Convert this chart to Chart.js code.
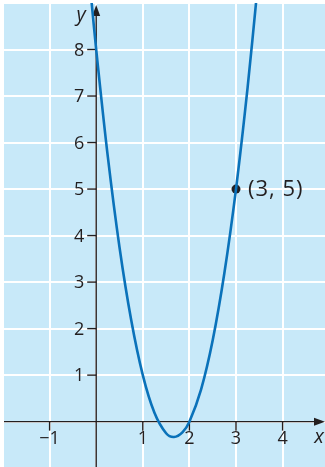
<!DOCTYPE html>
<html>
<head>
<meta charset="utf-8">
<script src="https://cdn.jsdelivr.net/npm/chart.js@4.4.0/dist/chart.umd.min.js"></script>
<style>
  html, body { margin: 0; padding: 0; background: #ffffff; }
  #wrap { width: 325px; height: 467px; }
</style>
</head>
<body>
<div id="wrap"><canvas id="graph"></canvas></div>
<script>
// parabola
const curveX = [-0.1, 0, 0.25, 0.5, 0.75, 1, 1.25, 1.5, 1.67, 1.85, 2, 2.25, 2.5, 2.75, 3, 3.25, 3.45];
const curveY = [9.03, 8, 5.69, 3.75, 2.19, 1, 0.19, -0.25, -0.33, -0.23, 0, 0.69, 1.75, 3.19, 5, 7.19, 9.21];

// marked point
const pointX = [3];
const pointY = [5];
const pointLabel = '(3, 5)';

// tick labels on the axes
const xTicks = [-1, 1, 2, 3, 4];
const xTickLabels = ['\u22121', '1', '2', '3', '4'];
const yTicks = [1, 2, 3, 4, 5, 6, 7, 8];
const yTickLabels = ['1', '2', '3', '4', '5', '6', '7', '8'];

const ink = '#231f20';
const tickFont = '18px "Open Sans"';

var curveData = curveX.map((x, i) => ({x: x, y: curveY[i]}));
var pointData = pointX.map((x, i) => ({x: x, y: pointY[i]}));

// light blue panel behind the grid
const panelBg = {
    id: 'panelBg',
    beforeDraw(chart) {
        const {ctx, chartArea: a} = chart;
        ctx.save();
        ctx.fillStyle = '#c8e9f9';
        ctx.fillRect(a.left, a.top, a.right - a.left, a.bottom - a.top);
        ctx.restore();
    }
};

// axes through the origin, with arrows and tick marks
const axesAtZero = {
    id: 'axesAtZero',
    beforeDatasetsDraw(chart) {
        const ctx = chart.ctx;
        const xs = chart.scales.x, ys = chart.scales.y;
        const a = chart.chartArea;
        var x0 = xs.getPixelForValue(0);
        var y0 = ys.getPixelForValue(0);
        ctx.save();
        ctx.strokeStyle = ink;
        ctx.fillStyle = ink;
        ctx.lineWidth = 1.4;

        // x axis
        ctx.beginPath();
        ctx.moveTo(a.left + 1, y0);
        ctx.lineTo(a.right - 6, y0);
        ctx.stroke();
        ctx.beginPath();
        ctx.moveTo(a.right, y0);
        ctx.lineTo(a.right - 11, y0 - 4);
        ctx.lineTo(a.right - 11, y0 + 4);
        ctx.closePath();
        ctx.fill();

        // y axis
        ctx.beginPath();
        ctx.moveTo(x0, a.bottom);
        ctx.lineTo(x0, a.top + 8);
        ctx.stroke();
        ctx.beginPath();
        ctx.moveTo(x0, a.top + 2);
        ctx.lineTo(x0 - 4, a.top + 13);
        ctx.lineTo(x0 + 4, a.top + 13);
        ctx.closePath();
        ctx.fill();

        // tick marks
        xTicks.forEach(v => {
            var px = xs.getPixelForValue(v);
            ctx.beginPath();
            ctx.moveTo(px, y0);
            ctx.lineTo(px, y0 + 9);
            ctx.stroke();
        });
        yTicks.forEach(v => {
            var py = ys.getPixelForValue(v);
            ctx.beginPath();
            ctx.moveTo(x0, py);
            ctx.lineTo(x0 - 9, py);
            ctx.stroke();
        });
        ctx.restore();
    },
    afterDatasetsDraw(chart) {
        const ctx = chart.ctx;
        const xs = chart.scales.x, ys = chart.scales.y;
        const a = chart.chartArea;
        var x0 = xs.getPixelForValue(0);
        var y0 = ys.getPixelForValue(0);
        ctx.save();
        ctx.fillStyle = ink;
        ctx.font = tickFont;

        ctx.textAlign = 'center';
        ctx.textBaseline = 'top';
        xTicks.forEach((v, i) => {
            ctx.fillText(xTickLabels[i], xs.getPixelForValue(v), y0 + 8);
        });

        ctx.textAlign = 'right';
        ctx.textBaseline = 'middle';
        yTicks.forEach((v, i) => {
            ctx.fillText(yTickLabels[i], x0 - 12, ys.getPixelForValue(v) + 1);
        });

        // axis names
        ctx.font = 'italic 20px "Open Sans"';
        ctx.textAlign = 'center';
        ctx.textBaseline = 'alphabetic';
        ctx.fillText('x', a.right - 6, y0 + 21);
        ctx.fillText('y', x0 - 15, a.top + 18);

        // label next to the point
        const pt = chart.getDatasetMeta(1).data[0];
        ctx.font = '22px "Open Sans"';
        ctx.letterSpacing = '1px';
        ctx.textAlign = 'left';
        ctx.textBaseline = 'middle';
        ctx.fillText(pointLabel, pt.x + 12, pt.y + 1);
        ctx.restore();
    }
};

new Chart(document.getElementById('graph'), {
    type: 'scatter',
    data: {
        datasets: [{
            data: curveData,
            showLine: true,
            borderColor: '#0a72ba',
            borderWidth: 2.6,
            pointRadius: 0,
            tension: 0.35,
            clip: 0
        }, {
            data: pointData,
            pointRadius: 4.5,
            pointBackgroundColor: ink,
            pointBorderColor: ink,
            pointBorderWidth: 0
        }]
    },
    options: {
        responsive: true,
        maintainAspectRatio: false,
        animation: false,
        events: [],
        layout: { autoPadding: false, padding: { left: 3, top: 3, right: 0, bottom: 0 } },
        plugins: {
            legend: { display: false },
            tooltip: { enabled: false }
        },
        scales: {
            x: {
                type: 'linear',
                min: -2,
                max: 4.91,
                ticks: { display: false, stepSize: 1, includeBounds: false },
                grid: { color: '#ffffff', lineWidth: 2, drawTicks: false },
                border: { display: false }
            },
            y: {
                type: 'linear',
                min: -0.975,
                max: 9,
                ticks: { display: false, stepSize: 1, includeBounds: false },
                grid: { color: '#ffffff', lineWidth: 2, drawTicks: false },
                border: { display: false }
            }
        }
    },
    plugins: [panelBg, axesAtZero]
});
</script>
</body>
</html>
